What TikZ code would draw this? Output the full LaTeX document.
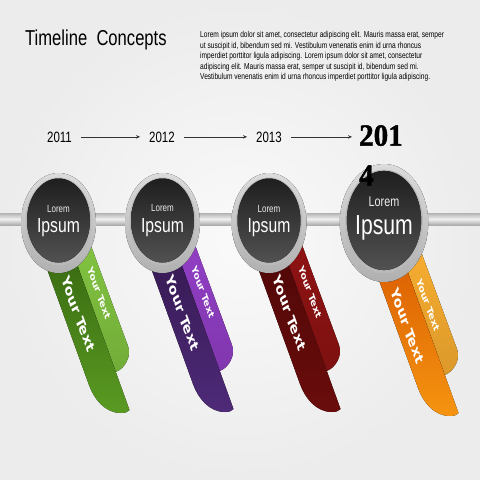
\documentclass[tikz,border=0pt]{standalone}
\usepackage{fontspec}
\newfontfamily\arialfont{Liberation Sans}
\newfontfamily\ribbonfont{DejaVu Sans}
\newfontfamily\yearfont{Liberation Serif}[FakeBold=1.5]
\usetikzlibrary{arrows.meta}
\definecolor{grnD}{HTML}{35650F}
\definecolor{grnDb}{HTML}{5A9A22}
\definecolor{grnL}{HTML}{82C441}
\definecolor{purD}{HTML}{34184F}
\definecolor{purDb}{HTML}{4E2A78}
\definecolor{purL}{HTML}{923FC6}
\definecolor{redD}{HTML}{4E0707}
\definecolor{redDb}{HTML}{6A0C0C}
\definecolor{redL}{HTML}{8F1313}
\definecolor{orgD}{HTML}{D85800}
\definecolor{orgDb}{HTML}{F59410}
\definecolor{orgL}{HTML}{F9AE30}
\begin{document}
\begin{tikzpicture}[x=1pt, y=-1pt,
    txt/.style={inner sep=0pt, yscale=1.3},
    ribtxt/.style={inner sep=0pt, text=white, yscale=1.3, rotate=-64.7},
    yeararrow/.style={draw=black!80, line width=0.7pt, -{Stealth[length=4pt,width=3.5pt]}, shorten <=9pt, shorten >=9pt}]

  \fill[inner color=gray!4, outer color=gray!15] (0,0) rectangle (480,480);
  \fill[top color=gray!60, bottom color=gray!65, middle color=gray!12] (0,213) rectangle (480,225);

  \foreach \dx/\dy/\dk/\dkb/\lt/\ty [count=\i] in {0/0/grnD/grnDb/grnL/0, 104/-1/purD/purDb/purL/0, 211/-1/redD/redDb/redL/0, 329/3/orgD/orgDb/orgL/9} {
    \begin{scope}[shift={(\dx,\dy)}]
      \fill[top color=\lt, bottom color=\lt!88!black] (66.5,235) -- (87,235) -- (128,346) .. controls (132,357) and (124,369) .. (115.7,372) -- cycle;
      \fill[top color=\dk, bottom color=\dkb] (34.7,235) -- (89,385) .. controls (94,399) and (105,413) .. (121,413) .. controls (125,413) and (128,412) .. (129.5,410) -- (66.5,235) -- cycle;
      \node[ribtxt, font=\ribbonfont\bfseries\fontsize{12}{12}\selectfont] (big\i) at (78.5,314+\ty) {Your Text};
      \node[ribtxt, font=\ribbonfont\bfseries\fontsize{8.3}{8.3}\selectfont] (small\i) at (99,293+\ty) {Your Text};
    \end{scope}
  }

  \foreach \cx/\s/\ly/\ts [count=\i] in {58.5/1/209/1, 162.5/1/208/1, 269/1/208.5/1, 384/1.18/202/1.35} {
    \fill[top color=gray!28, bottom color=gray!62] (\cx,223) ellipse [x radius=37.5*\s, y radius=50*\s];
    \fill[gray!55] (\cx,221.5) ellipse [x radius=33*\s, y radius=44*\s];
    \fill[top color=black!88, bottom color=black!68] (\cx,220.5) ellipse [x radius=31.5*\s, y radius=42*\s];
    \node[txt, scale=\ts, text=gray!15, font=\arialfont\fontsize{8}{8}\selectfont] (lorem\i) at (\cx,\ly) {Lorem};
    \node[txt, scale=\ts, text=white, font=\arialfont\fontsize{15.7}{15.7}\selectfont] (ipsum\i) at (\cx,228) {Ipsum};
  }

  \node[txt, font=\arialfont\fontsize{16.6}{16.6}\selectfont, anchor=base west] (title) at (25,45.5) {Timeline\ \ Concepts};
  \node[txt, font=\arialfont\fontsize{6.62}{8.1}\selectfont, align=left, anchor=north west] (blurb) at (200,31) {Lorem ipsum dolor sit amet, consectetur adipiscing elit. Mauris massa erat, semper\\ ut suscipit id, bibendum sed mi. Vestibulum venenatis enim id urna rhoncus\\ imperdiet porttitor ligula adipiscing. Lorem ipsum dolor sit amet, consectetur\\ adipiscing elit. Mauris massa erat, semper ut suscipit id, bibendum sed mi.\\ Vestibulum venenatis enim id urna rhoncus imperdiet porttitor ligula adipiscing.};

  \node[txt, font=\arialfont\fontsize{11.5}{11.5}\selectfont, anchor=base] (y2011) at (59.5,142) {2011};
  \node[txt, font=\arialfont\fontsize{11.5}{11.5}\selectfont, anchor=base] (y2012) at (162,142) {2012};
  \node[txt, font=\arialfont\fontsize{11.5}{11.5}\selectfont, anchor=base] (y2013) at (269,142) {2013};
  \node[inner sep=0pt, yscale=1.06, font=\yearfont\bfseries\fontsize{29}{37.7}\selectfont, align=left, anchor=north west] (y2014) at (359,125) {201\\4};

  \draw[yeararrow] (y2011) -- (y2012);
  \draw[yeararrow] (y2012) -- (y2013);
  \draw[yeararrow, shorten >=7pt] (y2013) -- (y2013 -| y2014.west);
\end{tikzpicture}
\end{document}
